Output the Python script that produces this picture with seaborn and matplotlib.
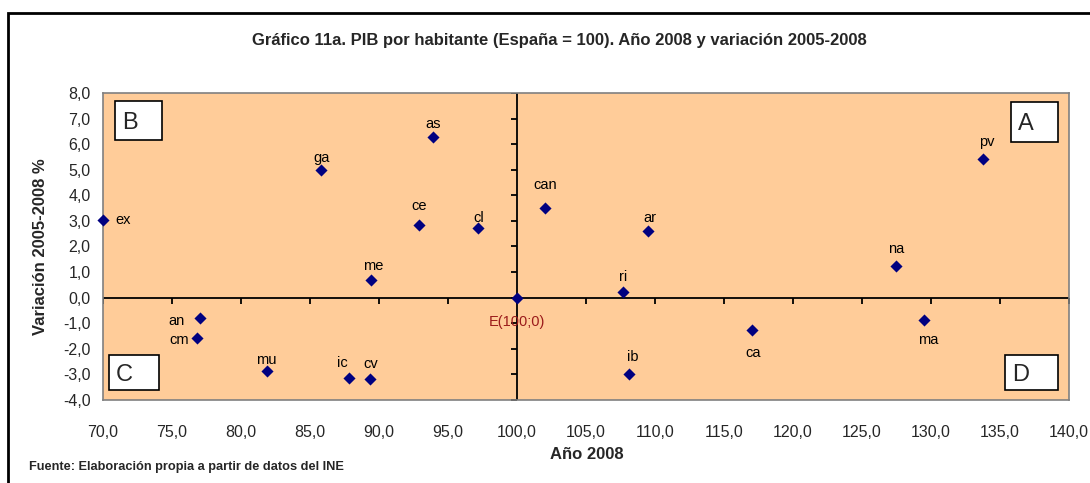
import matplotlib
matplotlib.use("Agg")
import matplotlib.pyplot as plt
import seaborn as sns
import pandas as pd
from matplotlib.patches import Rectangle

# Datos
regiones = ["ex", "ga", "as", "ce", "cl", "can", "me", "ic", "cv", "an", "cm", "mu",
            "ar", "ri", "ca", "ib", "pv", "na", "ma"]
pib_2008 = [70.0, 85.8, 93.9, 92.9, 97.2, 102.0, 89.4, 87.8, 89.35, 77.0, 76.8, 81.9,
            109.5, 107.7, 117.0, 108.1, 133.8, 127.5, 129.5]
variacion = [3.05, 5.0, 6.26, 2.85, 2.72, 3.5, 0.7, -3.14, -3.16, -0.81, -1.59, -2.85,
             2.62, 0.21, -1.26, -2.98, 5.42, 1.22, -0.86]

x_ticks = [70, 75, 80, 85, 90, 95, 100, 105, 110, 115, 120, 125, 130, 135, 140]
y_ticks = [-4, -3, -2, -1, 0, 1, 2, 3, 4, 5, 6, 7, 8]
x_tick_labels = ["70,0", "75,0", "80,0", "85,0", "90,0", "95,0", "100,0", "105,0", "110,0",
                 "115,0", "120,0", "125,0", "130,0", "135,0", "140,0"]
y_tick_labels = ["-4,0", "-3,0", "-2,0", "-1,0", "0,0", "1,0", "2,0", "3,0", "4,0",
                 "5,0", "6,0", "7,0", "8,0"]

df = pd.DataFrame({"region": regiones, "pib": pib_2008, "var": variacion})

# desplazamiento de las etiquetas (pixeles) y alineacion
label_offsets = {
    "ex": (12, 0, "left"), "ga": (1, 12, "center"), "as": (0, 13, "center"),
    "ce": (0, 19, "center"), "cl": (0, 10, "center"), "can": (1, 23, "center"),
    "me": (3, 14, "center"), "ic": (-6, 15, "center"), "cv": (1, 15, "center"),
    "an": (-15, -3, "right"), "cm": (-8, -2, "right"), "mu": (-1, 11, "center"),
    "ar": (2, 13, "center"), "ri": (0, 15, "center"), "ca": (2, -23, "center"),
    "ib": (4, 17, "center"), "pv": (3, 17, "center"), "na": (0, 17, "center"),
    "ma": (4, -20, "center"),
}

sns.set_style("white")
plt.rcParams["font.family"] = ["Liberation Sans", "DejaVu Sans"]

fig = plt.figure(figsize=(10.9, 4.83), dpi=100)
ax = fig.add_axes([0.0945, 0.1718, 0.8862, 0.6357])
ax.set_facecolor("#FFCC99")

# ejes que se cruzan en E(100;0)
ax.axvline(100, color="black", lw=1.3, zorder=2)
ax.axhline(0, color="black", lw=1.3, zorder=2)
ax.plot(x_ticks, [0] * len(x_ticks), ls="none", marker=3, ms=4, mew=1.3, color="black", zorder=2)
ax.plot([100] * len(y_ticks), y_ticks, ls="none", marker=0, ms=4, mew=1.3, color="black", zorder=2)

sns.scatterplot(data=df, x="pib", y="var", marker="D", s=38, color="#000080",
                linewidth=0, ax=ax, zorder=3, clip_on=False)
ax.scatter([100], [0], marker="D", s=38, color="#000080", linewidth=0, zorder=3)

for r, x, y in zip(regiones, pib_2008, variacion):
    dx, dy, ha = label_offsets[r]
    ax.annotate(r, (x, y), xytext=(dx, dy), textcoords="offset pixels",
                ha=ha, va="center", fontsize=10.5, color="black")
ax.annotate("E(100;0)", (100, 0), xytext=(0, -24), textcoords="offset pixels",
            ha="center", va="center", fontsize=10.5, color="#9B1B1B")

ax.set_xlim(70, 140)
ax.set_ylim(-4, 8)
ax.set_xticks(x_ticks)
ax.set_xticklabels(x_tick_labels)
ax.set_yticks(y_ticks)
ax.set_yticklabels(y_tick_labels)
ax.tick_params(axis="both", length=0, labelsize=11.5)
ax.tick_params(axis="x", pad=18)
ax.tick_params(axis="y", pad=9)
ax.set_xlabel("")
ax.set_ylabel("")
for s in ax.spines.values():
    s.set_color("#808080")
    s.set_linewidth(1.2)

# recuadros de cuadrantes
cuadrantes = {"B": (0.0124, 0.847, 0.049, 0.127), "A": (0.940, 0.840, 0.049, 0.131),
              "C": (0.0062, 0.033, 0.052, 0.114), "D": (0.934, 0.033, 0.055, 0.114)}
for letra, (x0, y0, w, h) in cuadrantes.items():
    ax.add_patch(Rectangle((x0, y0), w, h, transform=ax.transAxes, facecolor="white",
                           edgecolor="black", lw=1.2, zorder=4))
    ax.text(x0 + 0.007, y0 + h / 2 - 0.008, letra, transform=ax.transAxes, fontsize=17,
            ha="left", va="center", zorder=5)

fig.text(0.513, 0.917, "Gráfico 11a. PIB por habitante (España = 100). Año 2008 y variación 2005-2008",
         ha="center", va="center", fontsize=12, fontweight="bold")
fig.text(0.538, 0.058, "Año 2008", ha="center", va="center", fontsize=12, fontweight="bold")
fig.text(0.037, 0.49, "Variación 2005-2008 %", ha="center", va="center", rotation=90,
         fontsize=12, fontweight="bold")
fig.text(0.027, 0.033, "Fuente: Elaboración propia a partir de datos del INE",
         ha="left", va="center", fontsize=9.2, fontweight="bold")

# marco exterior
fig.add_artist(Rectangle((8 / 1090, -0.1), 1.2, 1.073, transform=fig.transFigure,
                         fill=False, edgecolor="black", lw=2))

fig.savefig("out.png", dpi=100)
